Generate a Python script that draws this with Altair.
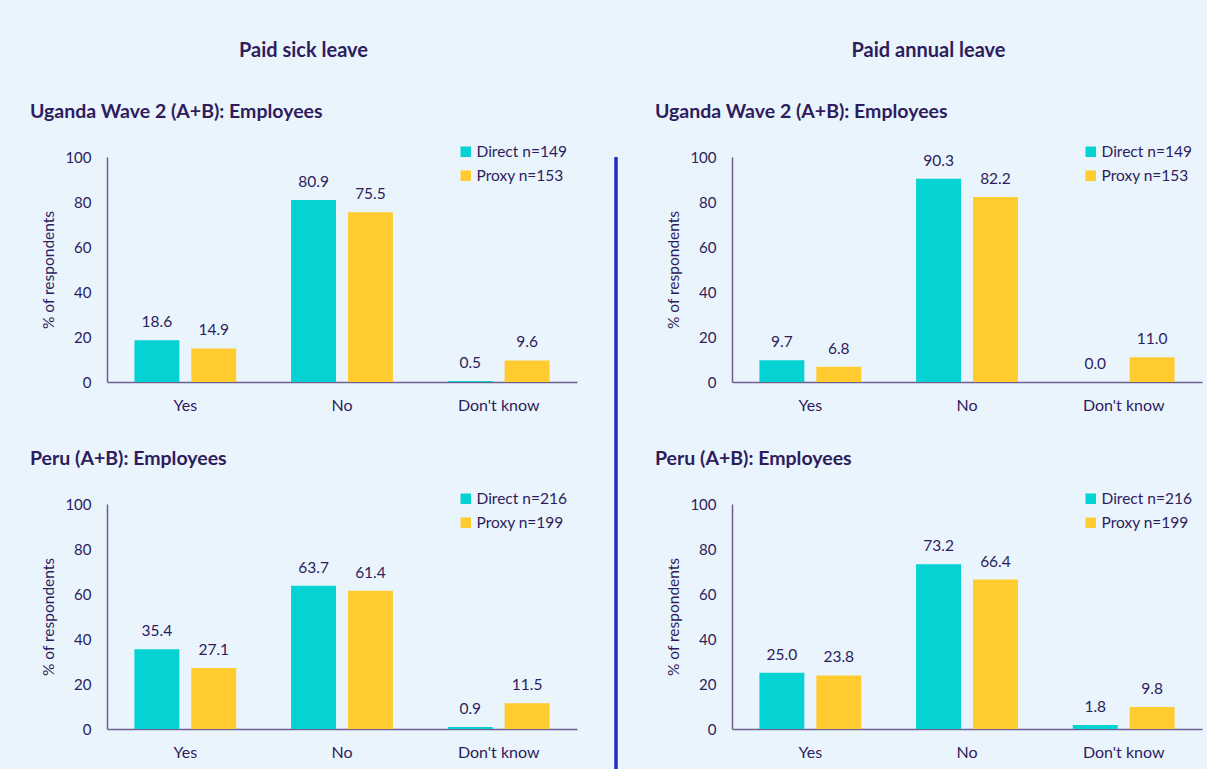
import altair as alt
import pandas as pd

categories = ["Yes", "No", "Don't know"]
groups = ["Direct", "Proxy"]

sick_uganda_direct = [18.6, 80.9, 0.5]
sick_uganda_proxy = [14.9, 75.5, 9.6]
sick_peru_direct = [35.4, 63.7, 0.9]
sick_peru_proxy = [27.1, 61.4, 11.5]

annual_uganda_direct = [9.7, 90.3, 0.0]
annual_uganda_proxy = [6.8, 82.2, 11.0]
annual_peru_direct = [25.0, 73.2, 1.8]
annual_peru_proxy = [23.8, 66.4, 9.8]

uganda_n = (149, 153)
peru_n = (216, 199)

column_titles = ["Paid sick leave", "Paid annual leave"]
panel_titles = ["Uganda Wave 2 (A+B): Employees", "Peru (A+B): Employees"]
y_ticks = [0, 20, 40, 60, 80, 100]

CYAN = "#05D3D3"
YELLOW = "#FFCB2F"
TEXT = "#2E1C5C"
AXIS = "#6E5F90"
BG = "#EAF4FD"
DIVIDER = "#1F2EBE"
FONT = "Lato"


def panel(direct, proxy, n, title):
    ld = f"{groups[0]} n={n[0]}"
    lp = f"{groups[1]} n={n[1]}"
    df = pd.DataFrame({
        "cat": categories * 2,
        "grp": [groups[0]] * 3 + [groups[1]] * 3,
        "series": [ld] * 3 + [lp] * 3,
        "value": direct + proxy,
    })
    df["label"] = df["value"].map(lambda v: f"{v:.1f}")
    base = alt.Chart(df).encode(
        x=alt.X("cat:N", sort=categories, title=None,
                scale=alt.Scale(paddingInner=0.35, paddingOuter=0.175),
                axis=alt.Axis(labelAngle=0, ticks=False, domainColor=AXIS, domainWidth=1.5,
                              labelColor=TEXT, labelFont=FONT, labelFontSize=16, labelPadding=15)),
        xOffset=alt.XOffset("grp:N", sort=groups,
                            scale=alt.Scale(paddingInner=0.21, paddingOuter=0)),
        y=alt.Y("value:Q", scale=alt.Scale(domain=[0, 100]),
                axis=alt.Axis(values=y_ticks, grid=False, ticks=False, domainColor=AXIS,
                              domainWidth=1.5, labelColor=TEXT, labelFont=FONT, labelFontSize=15,
                              labelPadding=16, title="% of respondents", titleFont=FONT,
                              titleFontSize=15.5, titleFontWeight="normal", titleColor=TEXT,
                              titlePadding=8)),
    )
    bars = base.mark_bar().encode(
        color=alt.Color("series:N", sort=[ld, lp],
                        scale=alt.Scale(domain=[ld, lp], range=[CYAN, YELLOW]),
                        legend=alt.Legend(title=None, orient="none", legendX=351, legendY=-13,
                                          direction="vertical", symbolType="square",
                                          symbolSize=110, symbolStrokeWidth=0,
                                          labelFont=FONT, labelFontSize=15.5, labelColor=TEXT,
                                          rowPadding=7, labelOffset=3))
    )
    text = base.mark_text(baseline="bottom", dy=-10, font=FONT, fontSize=15.5, color=TEXT).encode(
        text="label:N"
    )
    return alt.layer(bars, text).properties(
        width=470, height=225,
        title=alt.TitleParams(title, anchor="start", frame="group", dx=-77, offset=22,
                              fontSize=19.5, fontWeight="bold", font=FONT, color=TEXT),
    ).resolve_scale(color="independent")


def column(title, uganda_d, uganda_p, peru_d, peru_p):
    return alt.vconcat(
        panel(uganda_d, uganda_p, uganda_n, panel_titles[0]),
        panel(peru_d, peru_p, peru_n, panel_titles[1]),
        spacing=35,
    ).properties(
        title=alt.TitleParams(["", title], anchor="middle", fontSize=20, fontWeight="bold",
                              font=FONT, color=TEXT, lineHeight=26, offset=41)
    ).resolve_scale(color="independent")


left = column(column_titles[0], sick_uganda_direct, sick_uganda_proxy,
              sick_peru_direct, sick_peru_proxy)
right = column(column_titles[1], annual_uganda_direct, annual_uganda_proxy,
               annual_peru_direct, annual_peru_proxy)

divider = alt.Chart(pd.DataFrame({"d": [0]})).mark_rule(color=DIVIDER, strokeWidth=3.5).encode(
    x=alt.value(0), y=alt.value(0), y2=alt.value(755)
).properties(width=1, height=755)

chart = alt.hconcat(left, divider, right, spacing=37).resolve_scale(
    color="independent"
).properties(
    background=BG,
    padding={"left": 30, "top": 14, "right": 5, "bottom": 0},
).configure_view(stroke=None)

chart.save("out.html", embed_options={"renderer": "svg", "actions": False})
